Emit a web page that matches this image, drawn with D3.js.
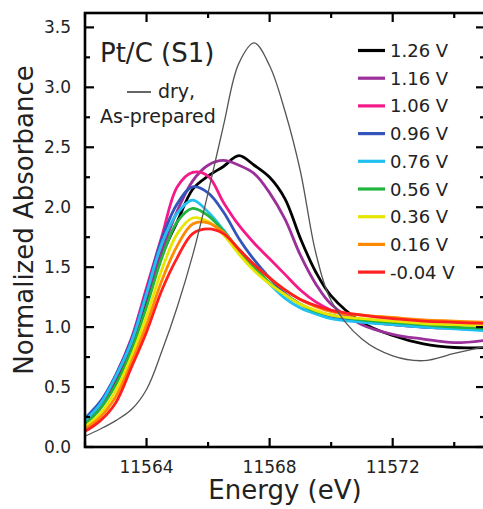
<!DOCTYPE html>
<html>
<head>
<meta charset="utf-8">
<script src="https://cdn.jsdelivr.net/npm/d3@7"></script>
<style>
  body { margin: 0; background: #fff; }
  text { font-family: "DejaVu Sans", sans-serif; fill: #222; }
</style>
</head>
<body>
<div id="chart"></div>
<script>
// energy grid (eV) shared by all spectra
const energy = [11562, 11562.5, 11563, 11563.5, 11564, 11564.5, 11565, 11565.5, 11566, 11566.5,
  11567, 11567.5, 11568, 11568.5, 11569, 11569.5, 11570, 11571, 11572, 11573, 11574, 11575];

const labels = ["1.26 V", "1.16 V", "1.06 V", "0.96 V", "0.76 V", "0.56 V", "0.36 V", "0.16 V", "-0.04 V"];
const colors = ["#000000", "#9b309b", "#f51a8a", "#3355bb", "#20c0f0", "#22b43c", "#e6e600", "#ff8a00", "#ff2020"];

const v126 = [0.22, 0.35, 0.56, 0.85, 1.22, 1.6, 1.88, 2.15, 2.26, 2.34, 2.43, 2.35, 2.25, 2.07, 1.74, 1.46, 1.26, 1.04, 0.93, 0.86, 0.83, 0.83];
const v116 = [0.22, 0.35, 0.57, 0.86, 1.25, 1.64, 1.97, 2.22, 2.35, 2.39, 2.35, 2.28, 2.12, 1.9, 1.6, 1.36, 1.19, 1.02, 0.94, 0.9, 0.87, 0.89];
const v106 = [0.23, 0.37, 0.6, 0.9, 1.33, 1.76, 2.17, 2.29, 2.26, 2.04, 1.85, 1.7, 1.57, 1.44, 1.31, 1.21, 1.14, 1.06, 1.02, 1.0, 0.99, 0.98];
const v096 = [0.24, 0.38, 0.6, 0.89, 1.3, 1.74, 2.03, 2.17, 2.12, 1.96, 1.74, 1.56, 1.41, 1.28, 1.19, 1.13, 1.09, 1.05, 1.02, 1.0, 0.99, 0.98];
const v076 = [0.22, 0.36, 0.59, 0.87, 1.28, 1.7, 1.95, 2.06, 1.96, 1.81, 1.64, 1.49, 1.36, 1.24, 1.16, 1.11, 1.07, 1.04, 1.02, 1.0, 0.985, 0.97];
const v056 = [0.19, 0.32, 0.52, 0.8, 1.17, 1.58, 1.88, 1.99, 1.93, 1.8, 1.64, 1.5, 1.37, 1.27, 1.19, 1.13, 1.1, 1.06, 1.04, 1.02, 1.0, 0.99];
const v036 = [0.17, 0.28, 0.47, 0.75, 1.09, 1.48, 1.78, 1.91, 1.88, 1.77, 1.61, 1.47, 1.36, 1.27, 1.19, 1.14, 1.1, 1.07, 1.05, 1.03, 1.02, 1.01];
const v016 = [0.15, 0.25, 0.42, 0.7, 1.02, 1.39, 1.68, 1.86, 1.87, 1.79, 1.65, 1.52, 1.41, 1.31, 1.23, 1.17, 1.13, 1.1, 1.08, 1.06, 1.05, 1.04];
const vm004 = [0.13, 0.22, 0.37, 0.66, 0.96, 1.31, 1.58, 1.78, 1.82, 1.78, 1.65, 1.52, 1.41, 1.31, 1.23, 1.18, 1.14, 1.1, 1.07, 1.05, 1.04, 1.03];
const dry = [0.09, 0.15, 0.22, 0.31, 0.48, 0.8, 1.17, 1.6, 2.12, 2.68, 3.2, 3.37, 3.18, 2.8, 2.3, 1.62, 1.22, 0.9, 0.76, 0.72, 0.78, 0.84];

const series = [v126, v116, v106, v096, v076, v056, v036, v016, vm004];

const xMajor = [11564, 11568, 11572];
const xMinor = [11562, 11566, 11570, 11574];
const yMajor = [0, 0.5, 1, 1.5, 2, 2.5, 3, 3.5];
const yMinor = [0.25, 0.75, 1.25, 1.75, 2.25, 2.75, 3.25];

const width = 483, height = 509;
const margin = { left: 85, right: -2, top: 13, bottom: 62 };

const x = d3.scaleLinear()
  .domain([11562, 11575])
  .range([margin.left, width - margin.right]);

const y = d3.scaleLinear()
  .domain([0, 3.62])
  .range([height - margin.bottom, margin.top]);

const [x0, x1] = x.range();
const [y0, y1] = y.range();

const svg = d3.select("#chart")
  .append("svg")
  .attr("width", width)
  .attr("height", height);

svg.append("clipPath").attr("id", "clip")
  .append("rect")
  .attr("x", x0).attr("y", y1)
  .attr("width", x1 - x0)
  .attr("height", y0 - y1);

const line = d3.line()
  .x((d, i) => x(energy[i]))
  .y(d => y(d))
  .curve(d3.curveCatmullRom.alpha(0.5));

// spectra, black first so the rainbow sits on top
svg.append("g")
  .attr("clip-path", "url(#clip)")
  .selectAll("path")
  .data(series)
  .join("path")
  .attr("d", line)
  .attr("fill", "none")
  .attr("stroke", (d, i) => colors[i])
  .attr("stroke-width", 2.8)
  .attr("stroke-linejoin", "round");

// dry, as-prepared reference
svg.append("path")
  .attr("clip-path", "url(#clip)")
  .attr("d", line(dry))
  .attr("fill", "none")
  .attr("stroke", "#555")
  .attr("stroke-width", 1.3);

// frame
svg.append("rect")
  .attr("x", x0).attr("y", y1)
  .attr("width", x1 - x0).attr("height", y0 - y1)
  .attr("fill", "none")
  .attr("stroke", "#000")
  .attr("stroke-width", 2.6);

// inward ticks on all four sides
const xt = xMajor.map(v => ({ v, len: 9 })).concat(xMinor.map(v => ({ v, len: 5 })));
const yt = yMajor.map(v => ({ v, len: 9 })).concat(yMinor.map(v => ({ v, len: 5 })));
const ticks = svg.append("g").attr("stroke", "#000").attr("stroke-width", 2.2);

ticks.selectAll(".xb").data(xt).join("line").attr("class", "xb")
  .attr("x1", d => x(d.v)).attr("x2", d => x(d.v))
  .attr("y1", y0).attr("y2", d => y0 - d.len);
ticks.selectAll(".xt").data(xt).join("line").attr("class", "xt")
  .attr("x1", d => x(d.v)).attr("x2", d => x(d.v))
  .attr("y1", y1).attr("y2", d => y1 + d.len);
ticks.selectAll(".yl").data(yt).join("line").attr("class", "yl")
  .attr("y1", d => y(d.v)).attr("y2", d => y(d.v))
  .attr("x1", x0).attr("x2", d => x0 + d.len);
ticks.selectAll(".yr").data(yt).join("line").attr("class", "yr")
  .attr("y1", d => y(d.v)).attr("y2", d => y(d.v))
  .attr("x1", x1).attr("x2", d => x1 - d.len);

// tick labels
svg.append("g").selectAll("text")
  .data(xMajor)
  .join("text")
  .attr("x", d => x(d))
  .attr("y", y0 + 26)
  .attr("text-anchor", "middle")
  .attr("font-size", 17)
  .text(d => d);

svg.append("g").selectAll("text")
  .data(yMajor)
  .join("text")
  .attr("x", x0 - 14)
  .attr("y", d => y(d) + 6)
  .attr("text-anchor", "end")
  .attr("font-size", 17)
  .text(d => d.toFixed(1));

// axis titles
svg.append("text")
  .attr("x", 285)
  .attr("y", 499)
  .attr("text-anchor", "middle")
  .attr("font-size", 26)
  .text("Energy (eV)");

svg.append("text")
  .attr("transform", "translate(33,220) rotate(-90)")
  .attr("text-anchor", "middle")
  .attr("font-size", 26)
  .text("Normalized Absorbance");

// annotations
svg.append("text").attr("x", 100).attr("y", 62).attr("font-size", 26).text("Pt/C (S1)");
svg.append("line").attr("x1", 127).attr("x2", 151).attr("y1", 92).attr("y2", 92)
  .attr("stroke", "#333").attr("stroke-width", 1.5);
svg.append("text").attr("x", 158).attr("y", 98).attr("font-size", 19).text("dry,");
svg.append("text").attr("x", 100).attr("y", 123).attr("font-size", 19).text("As-prepared");

// legend
const legend = svg.append("g")
  .selectAll("g")
  .data(labels)
  .join("g")
  .attr("transform", (d, i) => `translate(358,${50.5 + i * 27.7})`);

legend.append("line")
  .attr("x1", 0).attr("x2", 27)
  .attr("stroke", (d, i) => colors[i])
  .attr("stroke-width", 3.2);

legend.append("text")
  .attr("x", 32)
  .attr("y", 6.5)
  .attr("font-size", 18)
  .text(d => d);
</script>
</body>
</html>
